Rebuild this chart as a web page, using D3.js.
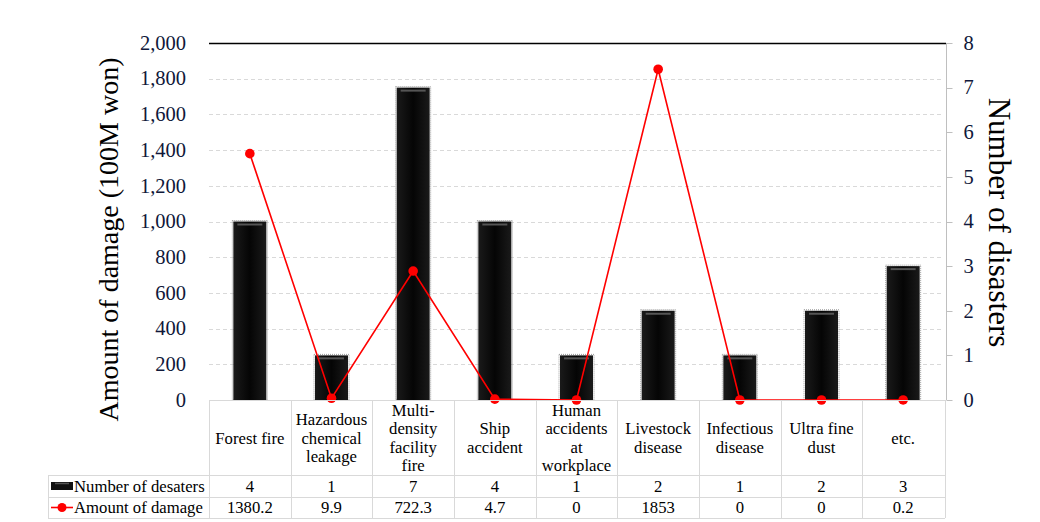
<!DOCTYPE html>
<html><head><meta charset="utf-8">
<script src="https://cdn.jsdelivr.net/npm/d3@7"></script>
<style>body{margin:0;background:#fff}svg{display:block}text{font-family:'Liberation Serif','DejaVu Serif',serif}</style>
</head><body><svg id="c" width="1040" height="522" font-family="Liberation Serif, DejaVu Serif, serif"></svg>
<script>
const categories = [["Forest fire"],["Hazardous","chemical","leakage"],["Multi-","density","facility","fire"],["Ship","accident"],["Human","accidents","at","workplace"],["Livestock","disease"],["Infectious","disease"],["Ultra fine","dust"],["etc."]];
const counts = [4,1,7,4,1,2,1,2,3];
const damage = [1380.2,9.9,722.3,4.7,0,1853,0,0,0.2];
const damageLabels = ["1380.2","9.9","722.3","4.7","0","1853","0","0","0.2"];
const leftTicks = [0,200,400,600,800,1000,1200,1400,1600,1800,2000];
const rightTicks = [0,1,2,3,4,5,6,7,8];
const seriesNames = ["Number of desaters","Amount of damage"];

const svg = d3.select("#c");
const L=209, R=944, T=43, B=400;
const keys = categories.map((c,i)=>i);
const x = d3.scaleBand().domain(keys).range([L,R]);
const yL = d3.scaleLinear().domain([0,2000]).range([B,T]);
const yR = d3.scaleLinear().domain([0,8]).range([B,T]);
const FS = 16.7;

const defs = svg.append("defs");
const g = defs.append("linearGradient").attr("id","bar").attr("x1",0).attr("x2",1).attr("y1",0).attr("y2",0);
g.append("stop").attr("offset","0").attr("stop-color","#1a1a1a");
g.append("stop").attr("offset","0.5").attr("stop-color","#050505");
g.append("stop").attr("offset","1").attr("stop-color","#1a1a1a");

// gridlines
svg.append("g").selectAll("line").data(leftTicks.slice(1,-1)).join("line")
  .attr("x1",L).attr("x2",R).attr("y1",d=>Math.round(yL(d))+0.5).attr("y2",d=>Math.round(yL(d))+0.5)
  .attr("stroke","#d9d9d9").attr("stroke-dasharray","4,3");
svg.append("line").attr("x1",L).attr("x2",R+2).attr("y1",T+0.5).attr("y2",T+0.5).attr("stroke","#000").attr("stroke-width",1.3);

// left axis labels
svg.append("g").selectAll("text").data(leftTicks).join("text")
  .attr("x",186).attr("y",d=>yL(d)).attr("dy","0.33em").attr("text-anchor","end")
  .attr("font-size",20.5).attr("fill","#10183a").text(d=>d3.format(",")(d));

// right axis
const ra = svg.append("g").attr("transform",`translate(${R+2.5},0)`);
ra.append("line").attr("y1",T).attr("y2",B).attr("stroke","#bfbfbf");
ra.selectAll("line.t").data(rightTicks).join("line").attr("class","t")
  .attr("x1",0).attr("x2",6).attr("y1",d=>Math.round(yR(d))+0.5).attr("y2",d=>Math.round(yR(d))+0.5).attr("stroke","#bfbfbf");
ra.selectAll("text").data(rightTicks).join("text")
  .attr("x",22).attr("y",d=>yR(d)).attr("dy","0.33em").attr("text-anchor","middle")
  .attr("font-size",20.5).attr("fill","#10183a").text(d=>d);

// titles
svg.append("text").attr("transform",`translate(118,${(T+B)/2+18}) rotate(-90)`).attr("text-anchor","middle")
  .attr("font-size",28).text("Amount of damage (100M won)");
svg.append("text").attr("transform",`translate(989,${(T+B)/2+1}) rotate(90)`).attr("text-anchor","middle")
  .attr("font-size",31).text("Number of disasters");

// bars
const bw = 33;
const bars = svg.append("g").selectAll("g").data(keys).join("g");
bars.append("rect").attr("x",i=>x(i)+x.bandwidth()/2-bw/2-1).attr("y",i=>yR(counts[i])-1)
  .attr("width",bw+2).attr("height",i=>B-yR(counts[i])+1).attr("fill","none")
  .attr("stroke","#9a9a9a").attr("stroke-width",1).attr("stroke-dasharray","1,1");
bars.append("rect").attr("x",i=>x(i)+x.bandwidth()/2-bw/2).attr("y",i=>yR(counts[i]))
  .attr("width",bw).attr("height",i=>B-yR(counts[i])).attr("fill","url(#bar)");
bars.append("line").attr("x1",i=>x(i)+x.bandwidth()/2-bw/2+4).attr("x2",i=>x(i)+x.bandwidth()/2+bw/2-4)
  .attr("y1",i=>yR(counts[i])+3).attr("y2",i=>yR(counts[i])+3).attr("stroke","#555").attr("stroke-width",2);

// line
const line = d3.line().x(i=>x(i)+x.bandwidth()/2).y(i=>yL(damage[i]));
svg.append("path").datum(keys).attr("d",line).attr("fill","none").attr("stroke","#ff0000").attr("stroke-width",1.6);
svg.append("g").selectAll("circle").data(keys).join("circle")
  .attr("cx",i=>x(i)+x.bandwidth()/2).attr("cy",i=>yL(damage[i])).attr("r",4.8).attr("fill","#ff0000");

// table
const tb = svg.append("g");
const TL = 48;
const gridC = "#d9d9d9";
tb.append("line").attr("x1",L).attr("x2",R+1).attr("y1",B+0.5).attr("y2",B+0.5).attr("stroke",gridC);
[475,497,518].forEach(y=>tb.append("line").attr("x1",TL).attr("x2",R+1).attr("y1",y+0.5).attr("y2",y+0.5).attr("stroke",gridC));
const vx = keys.map(i=>x(i)).concat([R+1]);
tb.selectAll("line.v").data(vx).join("line").attr("class","v")
  .attr("x1",d=>Math.round(d)+0.5).attr("x2",d=>Math.round(d)+0.5).attr("y1",B).attr("y2",518).attr("stroke",gridC);
tb.append("line").attr("x1",TL+0.5).attr("x2",TL+0.5).attr("y1",475).attr("y2",518).attr("stroke",gridC);

const cat = tb.selectAll("text.cat").data(keys).join("text").attr("class","cat")
  .attr("text-anchor","middle").attr("font-size",FS);
cat.each(function(i){
  const lines = categories[i];
  const lh = 18.3, cy = 438;
  const y0 = cy - (lines.length-1)*lh/2;
  d3.select(this).selectAll("tspan").data(lines).join("tspan")
    .attr("x",x(i)+x.bandwidth()/2).attr("y",(d,k)=>y0+k*lh).attr("dy","0.33em").text(d=>d);
});
tb.selectAll("text.v1").data(keys).join("text").attr("class","v1")
  .attr("x",i=>x(i)+x.bandwidth()/2).attr("y",486).attr("dy","0.33em").attr("text-anchor","middle")
  .attr("font-size",FS).text(i=>counts[i]);
tb.selectAll("text.v2").data(keys).join("text").attr("class","v2")
  .attr("x",i=>x(i)+x.bandwidth()/2).attr("y",507.5).attr("dy","0.33em").attr("text-anchor","middle")
  .attr("font-size",FS).text(i=>damageLabels[i]);

tb.append("rect").attr("x",51).attr("y",482).attr("width",22).attr("height",8).attr("fill","#111");
tb.append("line").attr("x1",55).attr("x2",69).attr("y1",483.5).attr("y2",483.5).attr("stroke","#555").attr("stroke-width",1.5);
tb.append("text").attr("x",74).attr("y",486).attr("dy","0.33em").attr("font-size",FS).text(seriesNames[0]);
tb.append("line").attr("x1",51).attr("x2",73).attr("y1",507.5).attr("y2",507.5).attr("stroke","#ff0000").attr("stroke-width",1.6);
tb.append("circle").attr("cx",62).attr("cy",507.5).attr("r",4.5).attr("fill","#ff0000");
tb.append("text").attr("x",74).attr("y",507.5).attr("dy","0.33em").attr("font-size",FS).text(seriesNames[1]);
</script></body></html>
